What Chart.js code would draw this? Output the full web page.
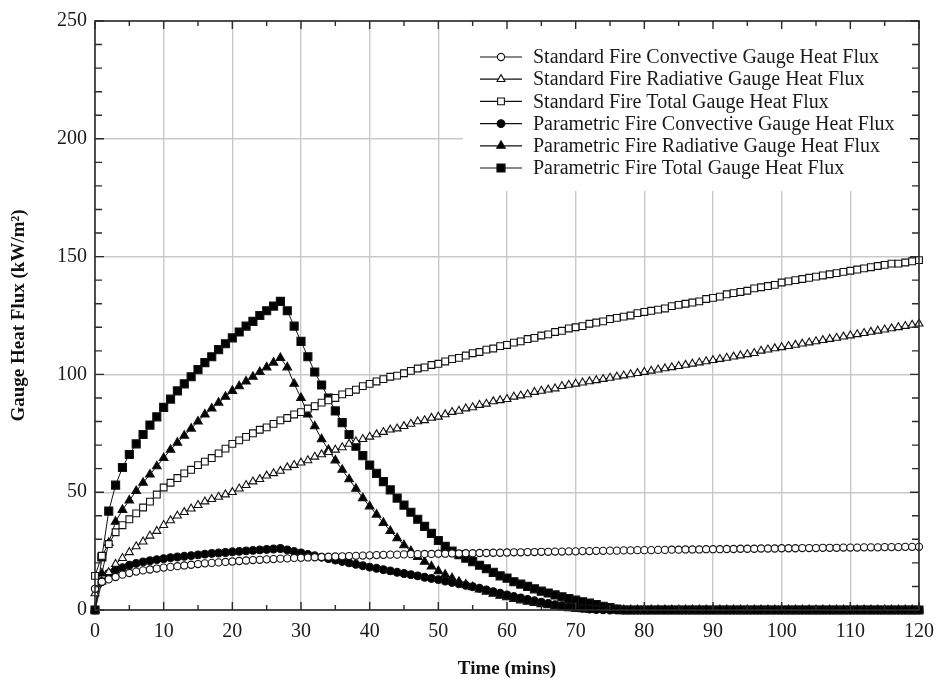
<!DOCTYPE html>
<html>
<head>
<meta charset="utf-8">
<title>Gauge Heat Flux</title>
<script src="https://cdn.jsdelivr.net/npm/chart.js@4/dist/chart.umd.min.js"></script>
<style>
  html, body { margin: 0; padding: 0; background: #fff; }
</style>
</head>
<body>
<canvas id="fluxChart" width="944" height="682"></canvas>
<script>
// one reading per minute, 0..120
const timeMins = Array.from({ length: 121 }, (_, i) => i);

const stdConvective = [
  9, 12, 13, 14, 15, 15.7, 16.3, 16.8, 17.2, 17.6,
  18, 18.3, 18.6, 18.9, 19.2, 19.5, 19.8, 20, 20.2, 20.4,
  20.6, 20.8, 21, 21.2, 21.3, 21.5, 21.6, 21.8, 21.9, 22.1,
  22.2, 22.3, 22.4, 22.5, 22.6, 22.7, 22.8, 22.9, 23, 23.1,
  23.2, 23.3, 23.4, 23.5, 23.5, 23.6, 23.7, 23.7, 23.8, 23.8,
  23.9, 23.9, 24, 24, 24.1, 24.1, 24.2, 24.2, 24.3, 24.3,
  24.4, 24.5, 24.5, 24.6, 24.6, 24.7, 24.7, 24.8, 24.8, 24.9,
  24.9, 25, 25, 25.1, 25.1, 25.2, 25.2, 25.3, 25.3, 25.4,
  25.4, 25.4, 25.5, 25.5, 25.6, 25.6, 25.7, 25.7, 25.7, 25.8,
  25.8, 25.8, 25.9, 25.9, 26, 26, 26, 26.1, 26.1, 26.1,
  26.2, 26.2, 26.2, 26.3, 26.3, 26.3, 26.4, 26.4, 26.4, 26.5,
  26.5, 26.5, 26.6, 26.6, 26.6, 26.7, 26.7, 26.7, 26.8, 26.8,
  26.8
];

const stdRadiative = [
  7, 12, 16, 19.5, 22, 24.5, 27, 29, 31.5, 33.5,
  36, 38, 40, 41.5, 43, 44.5, 46, 47, 48, 49,
  50, 51.5, 53, 54.5, 55.5, 57, 58, 59, 60.5, 61.5,
  62.5, 63.5, 65, 66, 67, 68, 69, 70.5, 71.5, 72.5,
  73.5, 74.5, 75.5, 76.5, 77, 78, 79, 80, 80.5, 81.5,
  82, 83, 84, 84.5, 85.5, 86, 87, 87.5, 88.5, 89,
  89.5, 90.5, 91, 91.5, 92.5, 93, 93.5, 94, 95, 95.5,
  96, 96.5, 97, 97.5, 98, 98.5, 99, 99.5, 100, 100.5,
  101, 101.5, 102, 102.5, 103, 103.5, 104, 104.5, 105, 105.5,
  106, 106.5, 107, 107.5, 108, 108.5, 109, 110, 110.5, 111,
  111.5, 112, 112.5, 113, 113.5, 114, 114.5, 115, 115.5, 116,
  116.5, 117, 117.5, 118, 118.5, 119, 119.5, 120, 120.5, 121,
  121.5
];

const stdTotal = [
  14.5, 23, 28, 33, 36, 38.5, 41, 43.5, 46, 49,
  52, 54, 56, 58, 59.5, 61.5, 63, 64.5, 66.5, 68.5,
  70.5, 72, 73.5, 75, 76.5, 77.5, 79, 80.5, 81.5, 83,
  84, 85.5, 86.5, 88, 89, 90, 91.5, 92.5, 93.5, 95,
  96, 97, 98, 99, 99.5, 100.5, 101.5, 102.5, 103, 104,
  104.5, 105.5, 106.5, 107, 108, 109, 109.5, 110.5, 111, 112,
  112.5, 113.5, 114, 115, 115.5, 116.5, 117, 118, 118.5, 119.5,
  120, 120.5, 121.5, 122, 122.5, 123.5, 124, 124.5, 125, 126,
  126.5, 127, 127.5, 128, 129, 129.5, 130, 130.5, 131, 132,
  132.5, 133, 134, 134.5, 135, 135.5, 136.5, 137, 137.5, 138,
  139, 139.5, 140, 140.5, 141, 141.5, 142, 142.5, 143, 143.5,
  144, 144.5, 145, 145.5, 146, 146.5, 147, 147, 147.5, 148,
  148.5
];

const paraConvective = [
  0, 12, 15.5, 17, 18, 19, 19.8, 20.4, 20.9, 21.4,
  21.8, 22.2, 22.5, 22.8, 23.1, 23.4, 23.7, 24, 24.2, 24.4,
  24.7, 24.9, 25.1, 25.3, 25.5, 25.7, 25.9, 26.1, 25.5, 24.8,
  24.2, 23.6, 23, 22.4, 21.8, 21.2, 20.6, 20, 19.4, 18.8,
  18.2, 17.7, 17.1, 16.6, 16, 15.5, 15, 14.5, 13.9, 13.4,
  12.9, 12.3, 11.7, 11.1, 10.5, 9.9, 9.2, 8.5, 7.8, 7.1,
  6.4, 5.7, 5.1, 4.5, 3.9, 3.3, 2.8, 2.3, 1.8, 1.4,
  1, 0.7, 0.4, 0.2, 0.1, 0, 0, 0, 0, 0,
  0, 0, 0, 0, 0, 0, 0, 0, 0, 0,
  0, 0, 0, 0, 0, 0, 0, 0, 0, 0,
  0, 0, 0, 0, 0, 0, 0, 0, 0, 0,
  0, 0, 0, 0, 0, 0, 0, 0, 0, 0,
  0
];

const paraRadiative = [
  0, 15.5, 28.5, 37.5, 42.5, 46.5, 50.5, 54, 57.5, 61,
  64.5, 68, 71, 74, 77, 80, 83, 85.5, 88, 90.5,
  93, 95, 97, 99, 101, 103, 105, 107, 103, 96,
  90, 83, 78, 72.5, 68, 63.5, 59.5, 55.5, 51.5, 47.5,
  44, 40.5, 37, 33.5, 30.5, 27.5, 25, 22.5, 20.5, 18.5,
  16.5, 15, 13.5, 12, 10.8, 9.7, 8.7, 7.8, 6.9, 6.1,
  5.4, 4.7, 4.1, 3.5, 3, 2.5, 2, 1.6, 1.2, 0.8,
  0.5, 0.3, 0.1, 0, 0, 0, 0, 0, 0, 0,
  0, 0, 0, 0, 0, 0, 0, 0, 0, 0,
  0, 0, 0, 0, 0, 0, 0, 0, 0, 0,
  0, 0, 0, 0, 0, 0, 0, 0, 0, 0,
  0, 0, 0, 0, 0, 0, 0, 0, 0, 0,
  0
];

const paraTotal = [
  0, 22.5, 42, 53, 60.5, 66, 70.5, 74.5, 78.5, 82,
  86, 89.5, 93, 96, 99, 102, 105, 107.5, 110.5, 113,
  115.5, 118, 120.5, 122.5, 125, 127, 129, 131, 127, 120.5,
  114, 107.5, 101, 95.5, 90, 84.5, 79.5, 74.5, 69.5, 65.5,
  61.5, 58, 54.5, 51, 47.5, 44.5, 41.5, 38.5, 35.5, 32.5,
  29.5, 27, 25, 23.5, 22, 20.5, 19, 17.5, 16, 14.5,
  13.5, 12, 11, 10, 9, 8, 7.2, 6.4, 5.6, 4.9,
  4.2, 3.5, 2.9, 2.3, 1.6, 1, 0.4, 0, 0, 0,
  0, 0, 0, 0, 0, 0, 0, 0, 0, 0,
  0, 0, 0, 0, 0, 0, 0, 0, 0, 0,
  0, 0, 0, 0, 0, 0, 0, 0, 0, 0,
  0, 0, 0, 0, 0, 0, 0, 0, 0, 0,
  0
];

const xTickStep = 10, xMinorStep = 5;
const yTickStep = 50, yMinorStep = 10;

const serif = '"Liberation Serif", "Times New Roman", serif';
Chart.defaults.font.family = serif;
Chart.defaults.color = '#1a1a1a';

const seriesDefs = [
  { label: 'Standard Fire Convective Gauge Heat Flux', data: stdConvective, pointStyle: 'circle', radius: 3.6, filled: false },
  { label: 'Standard Fire Radiative Gauge Heat Flux', data: stdRadiative, pointStyle: 'triangle', radius: 4.6, filled: false },
  { label: 'Standard Fire Total Gauge Heat Flux', data: stdTotal, pointStyle: 'rect', radius: 4.8, filled: false },
  { label: 'Parametric Fire Convective Gauge Heat Flux', data: paraConvective, pointStyle: 'circle', radius: 3.9, filled: true },
  { label: 'Parametric Fire Radiative Gauge Heat Flux', data: paraRadiative, pointStyle: 'triangle', radius: 5, filled: true },
  { label: 'Parametric Fire Total Gauge Heat Flux', data: paraTotal, pointStyle: 'rect', radius: 5.7, filled: true }
];

const datasets = seriesDefs.map(s => ({
  label: s.label,
  data: timeMins.map((t, i) => ({ x: t, y: s.data[i] })),
  borderColor: '#111',
  borderWidth: 1,
  pointStyle: s.pointStyle,
  pointRadius: s.radius,
  pointBorderWidth: 1.1,
  pointBorderColor: '#111',
  pointBackgroundColor: s.filled ? '#000' : '#fff',
  fill: false,
  tension: 0,
  clip: false
}));

function drawMarker(ctx, def, x, y) {
  ctx.fillStyle = def.filled ? '#000' : '#fff';
  ctx.strokeStyle = '#111';
  ctx.lineWidth = 1.1;
  if (Chart.helpers && Chart.helpers.drawPoint) {
    Chart.helpers.drawPoint(ctx, { pointStyle: def.pointStyle, radius: def.radius, rotation: 0, borderWidth: 1.1 }, x, y);
    return;
  }
  ctx.beginPath();
  ctx.arc(x, y, def.radius, 0, Math.PI * 2);
  ctx.fill();
  ctx.stroke();
}

// legend box inside the plot plus the mirrored tick frame
const frameAndLegend = {
  id: 'frameAndLegend',
  afterDraw(chart) {
    const { ctx, chartArea: a, scales: { x, y } } = chart;
    ctx.save();

    // legend
    ctx.fillStyle = '#fff';
    ctx.fillRect(463, a.top + 2, a.right - 463 - 2, 168);
    const rowTop = 57, rowGap = 22.2;
    ctx.font = '20px ' + serif;
    ctx.textBaseline = 'middle';
    ctx.textAlign = 'left';
    seriesDefs.forEach((def, i) => {
      const ry = rowTop + i * rowGap;
      ctx.strokeStyle = '#111';
      ctx.lineWidth = 1.2;
      ctx.beginPath();
      ctx.moveTo(480, ry);
      ctx.lineTo(522, ry);
      ctx.stroke();
      drawMarker(ctx, def, 501, ry);
      ctx.fillStyle = '#1a1a1a';
      ctx.fillText(def.label, 533, ry + 1);
    });

    // frame and inward ticks on all four sides
    ctx.strokeStyle = '#2b2b2b';
    ctx.lineWidth = 1.6;
    ctx.strokeRect(a.left, a.top, a.right - a.left, a.bottom - a.top);
    ctx.lineWidth = 1.4;
    ctx.beginPath();
    for (let t = x.min; t <= x.max; t += xMinorStep) {
      const px = x.getPixelForValue(t);
      const len = t % xTickStep === 0 ? 8 : 5;
      ctx.moveTo(px, a.bottom); ctx.lineTo(px, a.bottom - len);
      ctx.moveTo(px, a.top); ctx.lineTo(px, a.top + len);
    }
    for (let v = y.min; v <= y.max; v += yMinorStep) {
      const py = y.getPixelForValue(v);
      const len = v % yTickStep === 0 ? 9 : 7;
      ctx.moveTo(a.left, py); ctx.lineTo(a.left + len, py);
      ctx.moveTo(a.right, py); ctx.lineTo(a.right - len, py);
    }
    ctx.stroke();
    ctx.restore();
  }
};

new Chart(document.getElementById('fluxChart'), {
  type: 'line',
  data: { datasets },
  options: {
    responsive: false,
    animation: false,
    layout: { padding: { top: 21, right: 17, left: 0, bottom: 0 } },
    plugins: {
      legend: { display: false },
      tooltip: { enabled: false }
    },
    scales: {
      x: {
        type: 'linear',
        min: 0,
        max: 120,
        afterFit(scale) { scale.height = 72; },
        grid: { color: '#c9c9c9', lineWidth: 1.4, drawTicks: false },
        border: { display: false },
        ticks: {
          stepSize: xTickStep,
          autoSkip: false,
          maxRotation: 0,
          padding: 10,
          color: '#1a1a1a',
          font: { size: 20 }
        },
        title: {
          display: true,
          text: 'Time (mins)',
          color: '#111',
          font: { size: 19, weight: 'bold' },
          padding: { top: 4, bottom: 2 }
        }
      },
      y: {
        min: 0,
        max: 250,
        afterFit(scale) { scale.width = 95; },
        grid: { color: '#c9c9c9', lineWidth: 1.4, drawTicks: false },
        border: { display: false },
        ticks: {
          stepSize: yTickStep,
          padding: 8,
          color: '#1a1a1a',
          font: { size: 20 }
        },
        title: {
          display: true,
          text: 'Gauge Heat Flux (kW/m²)',
          color: '#111',
          font: { size: 19, weight: 'bold' },
          padding: { top: 8, bottom: 4 }
        }
      }
    }
  },
  plugins: [frameAndLegend]
});
</script>
</body>
</html>
